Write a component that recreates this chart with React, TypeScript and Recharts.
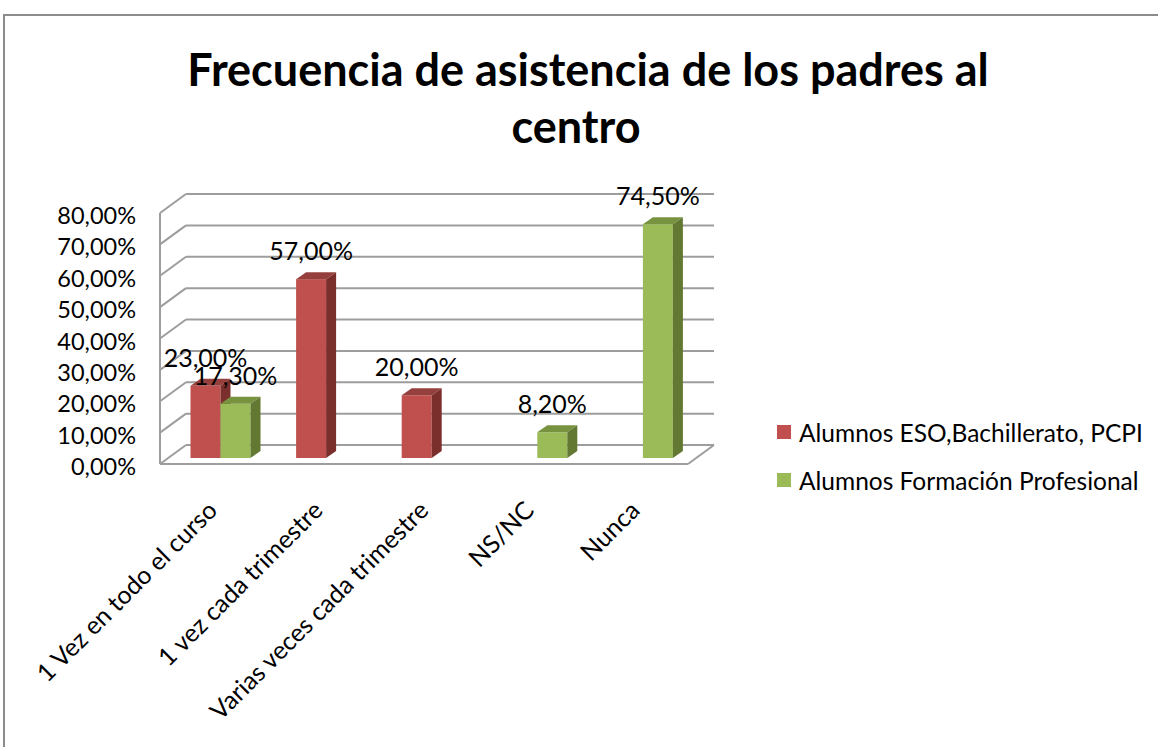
import React from 'react';
import { BarChart, Bar, XAxis, YAxis, CartesianGrid, Legend, LabelList } from 'recharts';

// values (percent)
const CATEGORIES = [
  '1 Vez en todo el curso',
  '1 vez cada trimestre',
  'Varias veces cada trimestre',
  'NS/NC',
  'Nunca',
];
const ESO_VALUES: (number | null)[] = [23, 57, 20, null, null];
const FP_VALUES: (number | null)[] = [17.3, null, null, 8.2, 74.5];
const Y_TICKS = [0, 10, 20, 30, 40, 50, 60, 70, 80];

const SERIES_ESO = 'Alumnos ESO,Bachillerato, PCPI';
const SERIES_FP = 'Alumnos Formación Profesional';

const data = CATEGORIES.map((c, i) => ({ cat: c, eso: ESO_VALUES[i], fp: FP_VALUES[i] }));

const FONT = 'Lato, "Open Sans", sans-serif';
const GRID = '#9d9d9d';
// 3d offsets
const WALL_DX = 26;
const WALL_DY = -19;
const BAR_DX = 7.5;
const BAR_DY = -6;
const DEPTH_X = 10;
const DEPTH_Y = -7;

const fmt = (v: number) => v.toFixed(2).replace('.', ',') + '%';

const make3DBar = (front: string, top: string, side: string) => (p: any) => {
  const { x, y, width, height, value } = p;
  if (value == null || !height) return null;
  const x0 = x + BAR_DX;
  const y0 = y + BAR_DY;
  const w = width;
  const h = height;
  return (
    <g>
      <rect x={x0} y={y0} width={w} height={h} fill={front} />
      <polygon
        points={`${x0},${y0} ${x0 + DEPTH_X},${y0 + DEPTH_Y} ${x0 + w + DEPTH_X},${y0 + DEPTH_Y} ${x0 + w},${y0}`}
        fill={top}
      />
      <polygon
        points={`${x0 + w},${y0} ${x0 + w + DEPTH_X},${y0 + DEPTH_Y} ${x0 + w + DEPTH_X},${y0 + h + DEPTH_Y} ${x0 + w},${y0 + h}`}
        fill={side}
      />
    </g>
  );
};

const EsoBar = make3DBar('#C0504D', '#96403D', '#7B2F2D');
const FpBar = make3DBar('#9BBB59', '#78933F', '#627833');

const ValueLabel = (p: any) => {
  const { x, y, width, value } = p;
  if (value == null) return null;
  return (
    <text
      x={x + BAR_DX + width / 2}
      y={y + BAR_DY - 19}
      textAnchor="middle"
      fontFamily={FONT}
      fontSize={25}
      fill="#000"
    >
      {fmt(value)}
    </text>
  );
};

// back wall gridlines with the diagonal on the side wall
const WallLine = (p: any) => {
  const { x1, x2, y1, index } = p;
  const isFloor = Math.abs(y1 - (p.y + p.height)) < 1;
  return (
    <g key={`wl-${index}`}>
      <line x1={x1 + WALL_DX} y1={y1 + WALL_DY} x2={x2 + WALL_DX} y2={y1 + WALL_DY} stroke={GRID} strokeWidth={2} />
      <line x1={x1} y1={y1} x2={x1 + WALL_DX} y2={y1 + WALL_DY} stroke={GRID} strokeWidth={2} />
      {isFloor && (
        <line x1={x2} y1={y1} x2={x2 + WALL_DX} y2={y1 + WALL_DY} stroke={GRID} strokeWidth={2} />
      )}
    </g>
  );
};

const YTick = (p: any) => {
  const { x, y, payload } = p;
  return (
    <text x={x + 1} y={y + 11} textAnchor="end" fontFamily={FONT} fontSize={23.5} fill="#000">
      {fmt(payload.value)}
    </text>
  );
};

const XTick = (p: any) => {
  const { x, y, payload } = p;
  const tx = x + 6;
  const ty = y + 48;
  return (
    <text
      x={tx}
      y={ty}
      transform={`rotate(-45 ${tx} ${ty})`}
      textAnchor="end"
      fontFamily={FONT}
      fontSize={25}
      fill="#000"
    >
      {payload.value}
    </text>
  );
};

const LegendContent = (p: any) => {
  const items = p.payload || [];
  return (
    <div style={{ fontFamily: FONT, fontSize: 24.5, color: '#000' }}>
      {items.map((it: any) => (
        <div key={it.value} style={{ display: 'flex', alignItems: 'center', height: 48, whiteSpace: 'nowrap' }}>
          <span style={{ display: 'inline-block', width: 14, height: 14, background: it.color, marginRight: 8 }} />
          <span>{it.value}</span>
        </div>
      ))}
    </div>
  );
};

const titleStyle: React.CSSProperties = {
  position: 'absolute',
  left: 0,
  textAlign: 'center',
  fontFamily: FONT,
  fontWeight: 700,
  fontSize: 45,
  lineHeight: 'normal',
  color: '#000',
  whiteSpace: 'nowrap',
};

export default function App() {
  return (
    <div style={{ position: 'absolute', left: 0, top: 0, width: 1158, height: 747, overflow: 'hidden', background: '#fff' }}>
      <div
        style={{
          position: 'absolute',
          left: 3,
          top: 14,
          width: 1400,
          height: 1000,
          border: '2px solid #8c8c8c',
        }}
      />
      <div style={{ ...titleStyle, top: 42, width: 1176 }}>
        Frecuencia de asistencia de los padres al
      </div>
      <div style={{ ...titleStyle, top: 99, width: 1152 }}>
        centro
      </div>
      <div style={{ position: 'absolute', left: 0, top: 0 }}>
        <BarChart
          width={1158}
          height={747}
          data={data}
          margin={{ top: 213, right: 470, bottom: 253, left: 60 }}
          barGap={0}
          barSize={30}
        >
          <CartesianGrid vertical={false} horizontal={WallLine} />
          <XAxis
            dataKey="cat"
            height={30}
            interval={0}
            tickSize={0}
            tickMargin={0}
            tick={XTick}
            axisLine={{ stroke: GRID, strokeWidth: 2 }}
          />
          <YAxis
            width={100}
            domain={[0, 80]}
            ticks={Y_TICKS}
            tickSize={0}
            tickMargin={25}
            tick={YTick}
            axisLine={{ stroke: GRID, strokeWidth: 2 }}
          />
          <Legend
            layout="vertical"
            align="center"
            verticalAlign="middle"
            content={LegendContent}
            wrapperStyle={{ left: 777, top: 408, width: 380 }}
          />
          <Bar dataKey="eso" name={SERIES_ESO} fill="#C0504D" shape={EsoBar} isAnimationActive={false}>
            <LabelList dataKey="eso" content={ValueLabel} />
          </Bar>
          <Bar dataKey="fp" name={SERIES_FP} fill="#9BBB59" shape={FpBar} isAnimationActive={false}>
            <LabelList dataKey="fp" content={ValueLabel} />
          </Bar>
        </BarChart>
      </div>
    </div>
  );
}
